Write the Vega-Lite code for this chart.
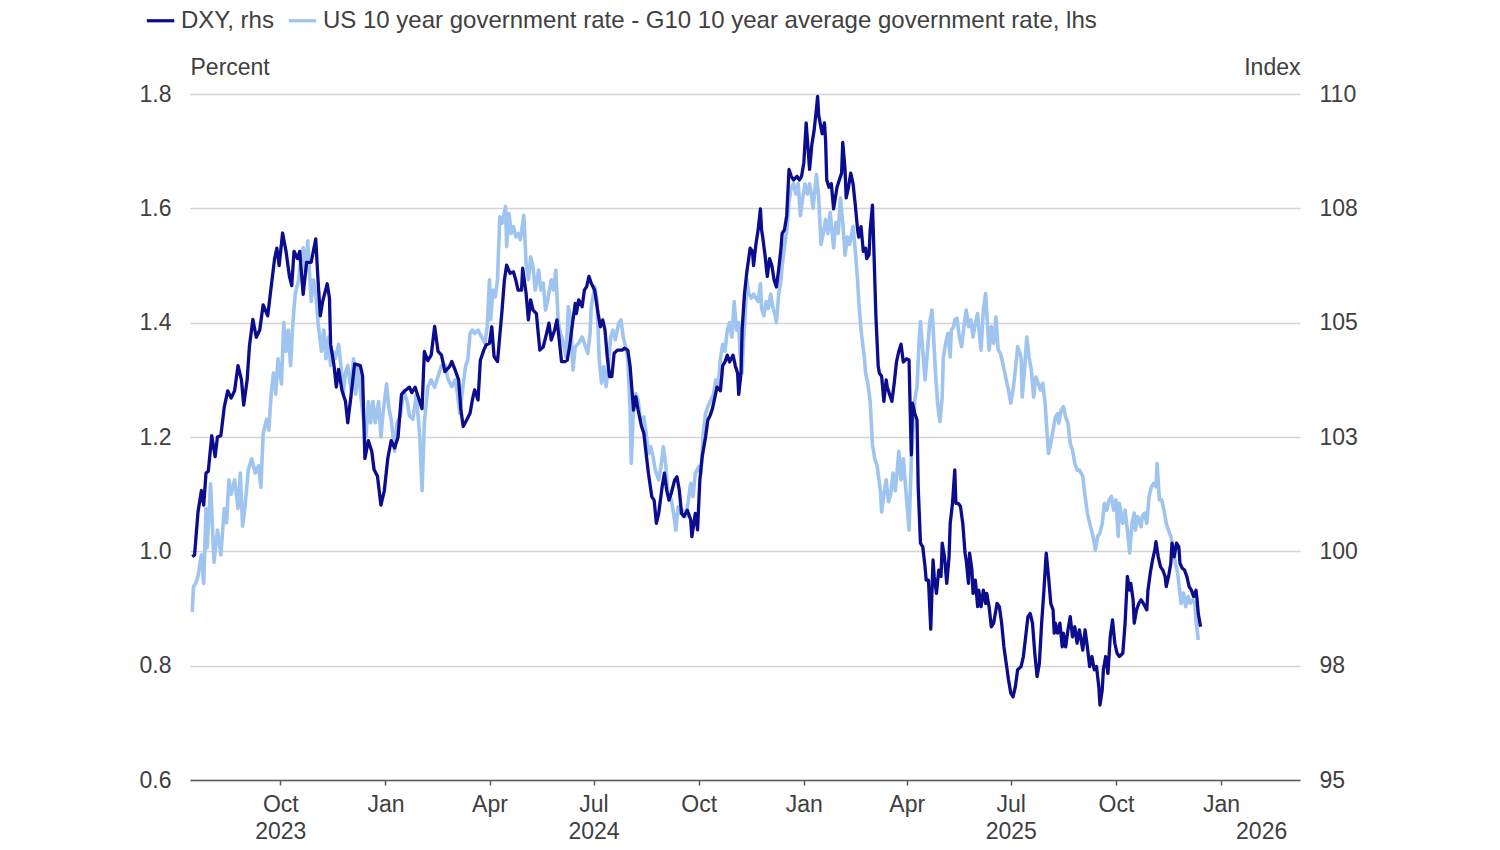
{
  "$schema": "https://vega.github.io/schema/vega-lite/v6.json",
  "width": 1110,
  "height": 686,
  "autosize": "none",
  "padding": {"left": 190, "top": 94, "right": 200, "bottom": 70},
  "background": "white",
  "datasets": {
    "dxy": [
      {"d":"2023-07-16","v":99.88},{"d":"2023-07-18","v":99.92},{"d":"2023-07-21","v":100.86},{"d":"2023-07-24","v":101.33},{"d":"2023-07-26","v":101.01},{"d":"2023-07-28","v":101.71},{"d":"2023-07-30","v":101.75},{"d":"2023-08-02","v":102.53},{"d":"2023-08-05","v":102.07},{"d":"2023-08-07","v":102.5},{"d":"2023-08-10","v":102.53},{"d":"2023-08-13","v":103.16},{"d":"2023-08-16","v":103.51},{"d":"2023-08-19","v":103.35},{"d":"2023-08-22","v":103.51},{"d":"2023-08-25","v":104.06},{"d":"2023-08-28","v":103.75},{"d":"2023-08-30","v":103.2},{"d":"2023-09-02","v":103.75},{"d":"2023-09-04","v":104.49},{"d":"2023-09-07","v":105.07},{"d":"2023-09-10","v":104.68},{"d":"2023-09-13","v":104.84},{"d":"2023-09-16","v":105.39},{"d":"2023-09-20","v":105.15},{"d":"2023-09-23","v":105.78},{"d":"2023-09-26","v":106.4},{"d":"2023-09-28","v":106.63},{"d":"2023-09-30","v":106.25},{"d":"2023-10-03","v":106.96},{"d":"2023-10-06","v":106.56},{"d":"2023-10-09","v":106.01},{"d":"2023-10-11","v":105.81},{"d":"2023-10-13","v":106.56},{"d":"2023-10-16","v":106.4},{"d":"2023-10-18","v":106.56},{"d":"2023-10-21","v":105.62},{"d":"2023-10-24","v":106.32},{"d":"2023-10-28","v":106.32},{"d":"2023-11-01","v":106.83},{"d":"2023-11-03","v":105.93},{"d":"2023-11-05","v":105.15},{"d":"2023-11-07","v":105.46},{"d":"2023-11-11","v":105.85},{"d":"2023-11-13","v":105.54},{"d":"2023-11-14","v":104.53},{"d":"2023-11-17","v":104.06},{"d":"2023-11-19","v":103.59},{"d":"2023-11-21","v":103.98},{"d":"2023-11-24","v":103.51},{"d":"2023-11-27","v":103.28},{"d":"2023-11-29","v":102.81},{"d":"2023-12-02","v":103.43},{"d":"2023-12-05","v":104.1},{"d":"2023-12-10","v":104.06},{"d":"2023-12-12","v":103.83},{"d":"2023-12-14","v":102.03},{"d":"2023-12-17","v":102.42},{"d":"2023-12-20","v":102.19},{"d":"2023-12-22","v":101.79},{"d":"2023-12-25","v":101.64},{"d":"2023-12-28","v":101.01},{"d":"2023-12-31","v":101.33},
      {"d":"2024-01-03","v":102.03},{"d":"2024-01-06","v":102.42},{"d":"2024-01-09","v":102.26},{"d":"2024-01-12","v":102.5},{"d":"2024-01-15","v":103.43},{"d":"2024-01-18","v":103.51},{"d":"2024-01-22","v":103.59},{"d":"2024-01-24","v":103.47},{"d":"2024-01-27","v":103.59},{"d":"2024-01-30","v":103.35},{"d":"2024-02-02","v":103.12},{"d":"2024-02-04","v":104.37},{"d":"2024-02-07","v":104.17},{"d":"2024-02-10","v":104.29},{"d":"2024-02-13","v":104.92},{"d":"2024-02-16","v":104.37},{"d":"2024-02-19","v":104.29},{"d":"2024-02-22","v":103.93},{"d":"2024-02-26","v":104.04},{"d":"2024-02-28","v":104.15},{"d":"2024-03-02","v":103.96},{"d":"2024-03-05","v":103.75},{"d":"2024-03-07","v":103.09},{"d":"2024-03-09","v":102.73},{"d":"2024-03-12","v":102.87},{"d":"2024-03-15","v":103.02},{"d":"2024-03-17","v":103.31},{"d":"2024-03-19","v":103.53},{"d":"2024-03-22","v":103.31},{"d":"2024-03-24","v":104.18},{"d":"2024-03-27","v":104.4},{"d":"2024-03-29","v":104.51},{"d":"2024-04-01","v":104.55},{"d":"2024-04-03","v":104.91},{"d":"2024-04-05","v":104.26},{"d":"2024-04-08","v":104.15},{"d":"2024-04-12","v":105.28},{"d":"2024-04-14","v":105.93},{"d":"2024-04-16","v":106.26},{"d":"2024-04-19","v":106.08},{"d":"2024-04-22","v":106.11},{"d":"2024-04-24","v":105.93},{"d":"2024-04-26","v":105.71},{"d":"2024-04-29","v":105.71},{"d":"2024-04-30","v":106.19},{"d":"2024-05-03","v":105.64},{"d":"2024-05-05","v":105.06},{"d":"2024-05-07","v":105.5},{"d":"2024-05-09","v":105.28},{"d":"2024-05-12","v":105.2},{"d":"2024-05-15","v":104.4},{"d":"2024-05-18","v":104.47},{"d":"2024-05-21","v":104.77},{"d":"2024-05-23","v":104.99},{"d":"2024-05-25","v":104.62},{"d":"2024-05-28","v":104.84},{"d":"2024-05-30","v":105.06},{"d":"2024-06-01","v":104.62},{"d":"2024-06-03","v":104.15},{"d":"2024-06-06","v":104.15},{"d":"2024-06-08","v":104.18},{"d":"2024-06-10","v":104.47},{"d":"2024-06-13","v":105.06},{"d":"2024-06-15","v":105.42},{"d":"2024-06-16","v":105.2},{"d":"2024-06-18","v":105.5},{"d":"2024-06-21","v":105.35},{"d":"2024-06-23","v":105.71},{"d":"2024-06-25","v":105.79},{"d":"2024-06-27","v":106.01},{"d":"2024-06-29","v":105.86},{"d":"2024-07-02","v":105.71},{"d":"2024-07-05","v":105.2},{"d":"2024-07-07","v":104.91},{"d":"2024-07-09","v":105.06},{"d":"2024-07-11","v":104.84},{"d":"2024-07-13","v":104.26},{"d":"2024-07-15","v":103.82},{"d":"2024-07-17","v":103.82},{"d":"2024-07-19","v":104.33},{"d":"2024-07-22","v":104.4},{"d":"2024-07-26","v":104.4},{"d":"2024-07-28","v":104.44},{"d":"2024-07-31","v":104.4},{"d":"2024-08-02","v":104.04},{"d":"2024-08-05","v":103.09},{"d":"2024-08-07","v":103.38},{"d":"2024-08-09","v":103.09},{"d":"2024-08-12","v":102.73},{"d":"2024-08-14","v":102.58},{"d":"2024-08-16","v":102.14},{"d":"2024-08-18","v":101.71},{"d":"2024-08-21","v":101.19},{"d":"2024-08-23","v":101.12},{"d":"2024-08-25","v":100.61},{"d":"2024-08-27","v":100.83},{"d":"2024-08-30","v":101.41},{"d":"2024-09-01","v":101.71},{"d":"2024-09-03","v":101.34},{"d":"2024-09-05","v":101.12},{"d":"2024-09-07","v":101.27},{"d":"2024-09-10","v":101.56},{"d":"2024-09-12","v":101.63},{"d":"2024-09-14","v":101.34},{"d":"2024-09-16","v":100.83},{"d":"2024-09-18","v":100.76},{"d":"2024-09-21","v":100.9},{"d":"2024-09-24","v":100.69},{"d":"2024-09-25","v":100.32},{"d":"2024-09-28","v":100.83},{"d":"2024-09-30","v":100.47},{"d":"2024-10-02","v":101.56},{"d":"2024-10-04","v":102.06},{"d":"2024-10-07","v":102.5},{"d":"2024-10-09","v":102.87},{"d":"2024-10-11","v":102.97},{"d":"2024-10-13","v":103.12},{"d":"2024-10-15","v":103.35},{"d":"2024-10-17","v":103.59},{"d":"2024-10-20","v":103.51},{"d":"2024-10-22","v":104.06},{"d":"2024-10-24","v":104.14},{"d":"2024-10-26","v":104.29},{"d":"2024-10-28","v":104.14},{"d":"2024-10-31","v":104.29},{"d":"2024-11-02","v":104.06},{"d":"2024-11-04","v":103.9},{"d":"2024-11-05","v":103.43},{"d":"2024-11-07","v":103.9},{"d":"2024-11-08","v":104.84},{"d":"2024-11-10","v":105.62},{"d":"2024-11-12","v":106.09},{"d":"2024-11-15","v":106.63},{"d":"2024-11-17","v":106.56},{"d":"2024-11-18","v":106.25},{"d":"2024-11-20","v":106.71},{"d":"2024-11-22","v":107.03},{"d":"2024-11-24","v":107.49},{"d":"2024-11-25","v":107.03},{"d":"2024-11-26","v":106.87},{"d":"2024-11-28","v":106.48},{"d":"2024-11-30","v":106.01},{"d":"2024-12-02","v":106.4},{"d":"2024-12-04","v":106.25},{"d":"2024-12-06","v":105.93},{"d":"2024-12-08","v":105.78},{"d":"2024-12-10","v":106.17},{"d":"2024-12-12","v":106.63},{"d":"2024-12-13","v":106.95},{"d":"2024-12-15","v":107.03},{"d":"2024-12-17","v":107.34},{"d":"2024-12-19","v":108.35},{"d":"2024-12-21","v":108.2},{"d":"2024-12-23","v":108.12},{"d":"2024-12-26","v":108.2},{"d":"2024-12-28","v":108.12},{"d":"2024-12-30","v":108.2},
      {"d":"2025-01-01","v":108.51},{"d":"2025-01-03","v":109.37},{"d":"2025-01-06","v":108.35},{"d":"2025-01-08","v":108.9},{"d":"2025-01-10","v":109.21},{"d":"2025-01-12","v":109.68},{"d":"2025-01-13","v":109.95},{"d":"2025-01-14","v":109.53},{"d":"2025-01-17","v":109.13},{"d":"2025-01-19","v":109.37},{"d":"2025-01-20","v":108.98},{"d":"2025-01-21","v":108.12},{"d":"2025-01-23","v":107.96},{"d":"2025-01-25","v":108.04},{"d":"2025-01-27","v":107.49},{"d":"2025-01-30","v":107.96},{"d":"2025-02-01","v":108.12},{"d":"2025-02-03","v":108.27},{"d":"2025-02-04","v":108.94},{"d":"2025-02-06","v":108.35},{"d":"2025-02-07","v":107.73},{"d":"2025-02-09","v":107.96},{"d":"2025-02-11","v":108.27},{"d":"2025-02-13","v":108.04},{"d":"2025-02-15","v":107.57},{"d":"2025-02-17","v":107.03},{"d":"2025-02-18","v":106.87},{"d":"2025-02-20","v":107.1},{"d":"2025-02-22","v":106.56},{"d":"2025-02-24","v":106.63},{"d":"2025-02-25","v":106.4},{"d":"2025-02-27","v":106.48},{"d":"2025-02-28","v":107.03},{"d":"2025-03-02","v":107.57},{"d":"2025-03-03","v":106.79},{"d":"2025-03-05","v":105.15},{"d":"2025-03-07","v":104.06},{"d":"2025-03-08","v":103.9},{"d":"2025-03-10","v":103.83},{"d":"2025-03-12","v":103.28},{"d":"2025-03-14","v":103.75},{"d":"2025-03-15","v":103.59},{"d":"2025-03-17","v":103.43},{"d":"2025-03-19","v":103.28},{"d":"2025-03-21","v":103.67},{"d":"2025-03-23","v":104.14},{"d":"2025-03-25","v":104.37},{"d":"2025-03-27","v":104.53},{"d":"2025-03-29","v":104.14},{"d":"2025-04-01","v":104.21},{"d":"2025-04-03","v":104.18},{"d":"2025-04-04","v":103.09},{"d":"2025-04-05","v":102.11},{"d":"2025-04-06","v":103.24},{"d":"2025-04-08","v":103.02},{"d":"2025-04-10","v":102.87},{"d":"2025-04-11","v":101.41},{"d":"2025-04-13","v":100.18},{"d":"2025-04-15","v":100.1},{"d":"2025-04-17","v":99.66},{"d":"2025-04-18","v":99.37},{"d":"2025-04-20","v":99.37},{"d":"2025-04-22","v":98.3},{"d":"2025-04-24","v":99.81},{"d":"2025-04-25","v":99.45},{"d":"2025-04-27","v":99.08},{"d":"2025-04-29","v":99.59},{"d":"2025-05-01","v":99.45},{"d":"2025-05-02","v":100.18},{"d":"2025-05-04","v":99.88},{"d":"2025-05-06","v":99.3},{"d":"2025-05-08","v":99.88},{"d":"2025-05-09","v":100.61},{"d":"2025-05-11","v":101.05},{"d":"2025-05-13","v":101.78},{"d":"2025-05-14","v":101.05},{"d":"2025-05-16","v":101.05},{"d":"2025-05-18","v":100.98},{"d":"2025-05-20","v":100.61},{"d":"2025-05-22","v":99.96},{"d":"2025-05-23","v":99.81},{"d":"2025-05-25","v":99.3},{"d":"2025-05-26","v":99.96},{"d":"2025-05-28","v":99.59},{"d":"2025-05-29","v":99.08},{"d":"2025-05-31","v":99.37},{"d":"2025-06-02","v":98.79},{"d":"2025-06-03","v":99.15},{"d":"2025-06-05","v":98.79},{"d":"2025-06-07","v":99.15},{"d":"2025-06-09","v":98.86},{"d":"2025-06-10","v":99.08},{"d":"2025-06-12","v":98.79},{"d":"2025-06-14","v":98.35},{"d":"2025-06-16","v":98.43},{"d":"2025-06-19","v":98.86},{"d":"2025-06-21","v":98.79},{"d":"2025-06-23","v":98.43},{"d":"2025-06-25","v":97.91},{"d":"2025-06-27","v":97.55},{"d":"2025-06-29","v":97.19},{"d":"2025-07-01","v":96.9},{"d":"2025-07-03","v":96.82},{"d":"2025-07-05","v":97.04},{"d":"2025-07-07","v":97.41},{"d":"2025-07-10","v":97.48},{"d":"2025-07-12","v":97.7},{"d":"2025-07-14","v":98.13},{"d":"2025-07-16","v":98.57},{"d":"2025-07-18","v":98.64},{"d":"2025-07-20","v":98.43},{"d":"2025-07-22","v":97.77},{"d":"2025-07-24","v":97.26},{"d":"2025-07-26","v":97.55},{"d":"2025-07-28","v":98.43},{"d":"2025-07-30","v":99.15},{"d":"2025-08-01","v":99.96},{"d":"2025-08-03","v":99.45},{"d":"2025-08-05","v":98.86},{"d":"2025-08-07","v":98.72},{"d":"2025-08-08","v":98.21},{"d":"2025-08-09","v":98.43},{"d":"2025-08-11","v":98.21},{"d":"2025-08-13","v":98.43},{"d":"2025-08-15","v":97.91},{"d":"2025-08-16","v":98.21},{"d":"2025-08-18","v":97.91},{"d":"2025-08-20","v":98.28},{"d":"2025-08-22","v":98.57},{"d":"2025-08-24","v":98.13},{"d":"2025-08-26","v":98.35},{"d":"2025-08-28","v":97.99},{"d":"2025-08-30","v":98.28},{"d":"2025-09-02","v":97.84},{"d":"2025-09-04","v":98.28},{"d":"2025-09-06","v":97.91},{"d":"2025-09-08","v":97.48},{"d":"2025-09-10","v":97.7},{"d":"2025-09-12","v":97.41},{"d":"2025-09-14","v":97.48},{"d":"2025-09-16","v":97.04},{"d":"2025-09-17","v":96.64},{"d":"2025-09-19","v":96.97},{"d":"2025-09-20","v":97.41},{"d":"2025-09-22","v":97.7},{"d":"2025-09-24","v":97.33},{"d":"2025-09-26","v":98.13},{"d":"2025-09-28","v":98.5},{"d":"2025-09-30","v":97.99},{"d":"2025-10-02","v":97.77},{"d":"2025-10-04","v":97.7},{"d":"2025-10-07","v":97.77},{"d":"2025-10-09","v":98.43},{"d":"2025-10-11","v":99.45},{"d":"2025-10-13","v":99.15},{"d":"2025-10-14","v":99.3},{"d":"2025-10-16","v":98.94},{"d":"2025-10-17","v":98.43},{"d":"2025-10-19","v":98.72},{"d":"2025-10-21","v":98.86},{"d":"2025-10-23","v":98.94},{"d":"2025-10-25","v":98.86},{"d":"2025-10-28","v":98.72},{"d":"2025-10-29","v":99.15},{"d":"2025-10-31","v":99.52},{"d":"2025-11-02","v":99.81},{"d":"2025-11-04","v":100.03},{"d":"2025-11-05","v":100.21},{"d":"2025-11-07","v":99.88},{"d":"2025-11-09","v":99.66},{"d":"2025-11-11","v":99.59},{"d":"2025-11-13","v":99.45},{"d":"2025-11-14","v":99.23},{"d":"2025-11-16","v":99.45},{"d":"2025-11-18","v":99.74},{"d":"2025-11-19","v":100.18},{"d":"2025-11-21","v":99.88},{"d":"2025-11-23","v":100.18},{"d":"2025-11-25","v":100.1},{"d":"2025-11-26","v":99.74},{"d":"2025-11-28","v":99.63},{"d":"2025-11-30","v":99.59},{"d":"2025-12-02","v":99.45},{"d":"2025-12-04","v":99.23},{"d":"2025-12-06","v":99.15},{"d":"2025-12-08","v":99.01},{"d":"2025-12-10","v":99.15},{"d":"2025-12-11","v":98.94},{"d":"2025-12-12","v":98.64},{"d":"2025-12-14","v":98.35}
    ],
    "spr": [
      {"d":"2023-07-16","v":0.894},{"d":"2023-07-17","v":0.938},{"d":"2023-07-19","v":0.944},{"d":"2023-07-21","v":0.956},{"d":"2023-07-24","v":0.994},{"d":"2023-07-26","v":0.944},{"d":"2023-07-28","v":1.075},{"d":"2023-07-29","v":1.006},{"d":"2023-08-01","v":1.118},{"d":"2023-08-04","v":0.981},{"d":"2023-08-07","v":1.037},{"d":"2023-08-10","v":0.994},{"d":"2023-08-13","v":1.075},{"d":"2023-08-15","v":1.05},{"d":"2023-08-17","v":1.125},{"d":"2023-08-19","v":1.1},{"d":"2023-08-22","v":1.125},{"d":"2023-08-25","v":1.075},{"d":"2023-08-27","v":1.137},{"d":"2023-08-29","v":1.044},{"d":"2023-08-31","v":1.075},{"d":"2023-09-03","v":1.143},{"d":"2023-09-06","v":1.162},{"d":"2023-09-09","v":1.137},{"d":"2023-09-12","v":1.15},{"d":"2023-09-14","v":1.112},{"d":"2023-09-16","v":1.206},{"d":"2023-09-19","v":1.231},{"d":"2023-09-21","v":1.212},{"d":"2023-09-23","v":1.275},{"d":"2023-09-25","v":1.312},{"d":"2023-09-27","v":1.275},{"d":"2023-09-29","v":1.337},{"d":"2023-10-02","v":1.293},{"d":"2023-10-04","v":1.4},{"d":"2023-10-06","v":1.35},{"d":"2023-10-08","v":1.387},{"d":"2023-10-10","v":1.325},{"d":"2023-10-12","v":1.4},{"d":"2023-10-14","v":1.45},{"d":"2023-10-17","v":1.475},{"d":"2023-10-19","v":1.512},{"d":"2023-10-21","v":1.531},{"d":"2023-10-23","v":1.487},{"d":"2023-10-25","v":1.543},{"d":"2023-10-28","v":1.437},{"d":"2023-10-30","v":1.475},{"d":"2023-11-01","v":1.45},{"d":"2023-11-03","v":1.4},{"d":"2023-11-06","v":1.35},{"d":"2023-11-08","v":1.387},{"d":"2023-11-10","v":1.337},{"d":"2023-11-12","v":1.375},{"d":"2023-11-14","v":1.325},{"d":"2023-11-16","v":1.35},{"d":"2023-11-18","v":1.337},{"d":"2023-11-21","v":1.362},{"d":"2023-11-23","v":1.325},{"d":"2023-11-25","v":1.275},{"d":"2023-11-27","v":1.312},{"d":"2023-11-29","v":1.325},{"d":"2023-12-02","v":1.281},{"d":"2023-12-04","v":1.337},{"d":"2023-12-06","v":1.275},{"d":"2023-12-08","v":1.325},{"d":"2023-12-11","v":1.262},{"d":"2023-12-13","v":1.225},{"d":"2023-12-15","v":1.2},{"d":"2023-12-17","v":1.262},{"d":"2023-12-19","v":1.225},{"d":"2023-12-21","v":1.262},{"d":"2023-12-23","v":1.225},{"d":"2023-12-26","v":1.262},{"d":"2023-12-28","v":1.2},{"d":"2023-12-30","v":1.244},
      {"d":"2024-01-02","v":1.293},{"d":"2024-01-04","v":1.25},{"d":"2024-01-06","v":1.231},{"d":"2024-01-09","v":1.175},{"d":"2024-01-11","v":1.225},{"d":"2024-01-14","v":1.237},{"d":"2024-01-17","v":1.281},{"d":"2024-01-20","v":1.262},{"d":"2024-01-22","v":1.237},{"d":"2024-01-25","v":1.231},{"d":"2024-01-28","v":1.275},{"d":"2024-01-31","v":1.2},{"d":"2024-02-02","v":1.106},{"d":"2024-02-04","v":1.225},{"d":"2024-02-07","v":1.287},{"d":"2024-02-10","v":1.3},{"d":"2024-02-13","v":1.287},{"d":"2024-02-16","v":1.306},{"d":"2024-02-19","v":1.325},{"d":"2024-02-22","v":1.326},{"d":"2024-02-25","v":1.3},{"d":"2024-02-28","v":1.288},{"d":"2024-03-02","v":1.3},{"d":"2024-03-04","v":1.276},{"d":"2024-03-06","v":1.241},{"d":"2024-03-08","v":1.276},{"d":"2024-03-11","v":1.323},{"d":"2024-03-13","v":1.335},{"d":"2024-03-15","v":1.381},{"d":"2024-03-17","v":1.387},{"d":"2024-03-19","v":1.381},{"d":"2024-03-22","v":1.387},{"d":"2024-03-25","v":1.375},{"d":"2024-03-28","v":1.364},{"d":"2024-03-30","v":1.393},{"d":"2024-04-01","v":1.475},{"d":"2024-04-02","v":1.405},{"d":"2024-04-04","v":1.457},{"d":"2024-04-06","v":1.445},{"d":"2024-04-08","v":1.475},{"d":"2024-04-10","v":1.585},{"d":"2024-04-12","v":1.574},{"d":"2024-04-15","v":1.603},{"d":"2024-04-16","v":1.533},{"d":"2024-04-18","v":1.591},{"d":"2024-04-20","v":1.556},{"d":"2024-04-22","v":1.568},{"d":"2024-04-24","v":1.55},{"d":"2024-04-26","v":1.556},{"d":"2024-04-28","v":1.545},{"d":"2024-05-01","v":1.588},{"d":"2024-05-03","v":1.504},{"d":"2024-05-05","v":1.475},{"d":"2024-05-07","v":1.515},{"d":"2024-05-09","v":1.498},{"d":"2024-05-11","v":1.457},{"d":"2024-05-14","v":1.492},{"d":"2024-05-16","v":1.457},{"d":"2024-05-18","v":1.469},{"d":"2024-05-20","v":1.422},{"d":"2024-05-22","v":1.44},{"d":"2024-05-25","v":1.475},{"d":"2024-05-27","v":1.457},{"d":"2024-05-29","v":1.492},{"d":"2024-05-31","v":1.405},{"d":"2024-06-02","v":1.381},{"d":"2024-06-04","v":1.37},{"d":"2024-06-07","v":1.34},{"d":"2024-06-09","v":1.428},{"d":"2024-06-11","v":1.405},{"d":"2024-06-13","v":1.317},{"d":"2024-06-15","v":1.358},{"d":"2024-06-18","v":1.364},{"d":"2024-06-21","v":1.375},{"d":"2024-06-24","v":1.358},{"d":"2024-06-26","v":1.346},{"d":"2024-06-28","v":1.381},{"d":"2024-06-29","v":1.428},{"d":"2024-07-02","v":1.463},{"d":"2024-07-04","v":1.44},{"d":"2024-07-06","v":1.335},{"d":"2024-07-08","v":1.294},{"d":"2024-07-10","v":1.323},{"d":"2024-07-12","v":1.288},{"d":"2024-07-14","v":1.323},{"d":"2024-07-16","v":1.375},{"d":"2024-07-18","v":1.387},{"d":"2024-07-20","v":1.37},{"d":"2024-07-23","v":1.399},{"d":"2024-07-25","v":1.405},{"d":"2024-07-27","v":1.375},{"d":"2024-07-29","v":1.358},{"d":"2024-07-31","v":1.335},{"d":"2024-08-02","v":1.247},{"d":"2024-08-03","v":1.154},{"d":"2024-08-05","v":1.253},{"d":"2024-08-07","v":1.276},{"d":"2024-08-09","v":1.265},{"d":"2024-08-11","v":1.23},{"d":"2024-08-14","v":1.235},{"d":"2024-08-16","v":1.206},{"d":"2024-08-18","v":1.171},{"d":"2024-08-20","v":1.183},{"d":"2024-08-22","v":1.166},{"d":"2024-08-24","v":1.142},{"d":"2024-08-27","v":1.125},{"d":"2024-08-29","v":1.148},{"d":"2024-08-31","v":1.183},{"d":"2024-09-02","v":1.154},{"d":"2024-09-04","v":1.102},{"d":"2024-09-07","v":1.09},{"d":"2024-09-09","v":1.067},{"d":"2024-09-11","v":1.037},{"d":"2024-09-13","v":1.078},{"d":"2024-09-15","v":1.067},{"d":"2024-09-17","v":1.072},{"d":"2024-09-20","v":1.061},{"d":"2024-09-22","v":1.09},{"d":"2024-09-24","v":1.119},{"d":"2024-09-26","v":1.096},{"d":"2024-09-28","v":1.136},{"d":"2024-10-01","v":1.148},{"d":"2024-10-03","v":1.136},{"d":"2024-10-05","v":1.206},{"d":"2024-10-07","v":1.241},{"d":"2024-10-09","v":1.253},{"d":"2024-10-11","v":1.262},{"d":"2024-10-14","v":1.275},{"d":"2024-10-16","v":1.3},{"d":"2024-10-18","v":1.287},{"d":"2024-10-20","v":1.337},{"d":"2024-10-22","v":1.362},{"d":"2024-10-24","v":1.35},{"d":"2024-10-26","v":1.387},{"d":"2024-10-28","v":1.4},{"d":"2024-10-30","v":1.375},{"d":"2024-11-01","v":1.437},{"d":"2024-11-03","v":1.387},{"d":"2024-11-05","v":1.4},{"d":"2024-11-06","v":1.35},{"d":"2024-11-08","v":1.312},{"d":"2024-11-09","v":1.362},{"d":"2024-11-11","v":1.425},{"d":"2024-11-12","v":1.475},{"d":"2024-11-14","v":1.45},{"d":"2024-11-16","v":1.443},{"d":"2024-11-18","v":1.45},{"d":"2024-11-20","v":1.443},{"d":"2024-11-22","v":1.437},{"d":"2024-11-24","v":1.468},{"d":"2024-11-25","v":1.425},{"d":"2024-11-27","v":1.412},{"d":"2024-11-29","v":1.437},{"d":"2024-12-01","v":1.425},{"d":"2024-12-03","v":1.45},{"d":"2024-12-05","v":1.425},{"d":"2024-12-07","v":1.412},{"d":"2024-12-08","v":1.4},{"d":"2024-12-10","v":1.45},{"d":"2024-12-12","v":1.475},{"d":"2024-12-13","v":1.5},{"d":"2024-12-15","v":1.531},{"d":"2024-12-17","v":1.562},{"d":"2024-12-19","v":1.612},{"d":"2024-12-21","v":1.637},{"d":"2024-12-23","v":1.643},{"d":"2024-12-25","v":1.625},{"d":"2024-12-27","v":1.643},{"d":"2024-12-29","v":1.587},{"d":"2024-12-31","v":1.618},
      {"d":"2025-01-02","v":1.643},{"d":"2025-01-04","v":1.625},{"d":"2025-01-06","v":1.643},{"d":"2025-01-08","v":1.618},{"d":"2025-01-09","v":1.6},{"d":"2025-01-12","v":1.659},{"d":"2025-01-14","v":1.618},{"d":"2025-01-16","v":1.537},{"d":"2025-01-18","v":1.556},{"d":"2025-01-20","v":1.581},{"d":"2025-01-22","v":1.556},{"d":"2025-01-24","v":1.593},{"d":"2025-01-27","v":1.531},{"d":"2025-01-29","v":1.575},{"d":"2025-01-31","v":1.556},{"d":"2025-02-02","v":1.618},{"d":"2025-02-04","v":1.575},{"d":"2025-02-06","v":1.518},{"d":"2025-02-08","v":1.55},{"d":"2025-02-10","v":1.537},{"d":"2025-02-13","v":1.568},{"d":"2025-02-15","v":1.525},{"d":"2025-02-17","v":1.475},{"d":"2025-02-18","v":1.437},{"d":"2025-02-20","v":1.387},{"d":"2025-02-23","v":1.337},{"d":"2025-02-24","v":1.312},{"d":"2025-02-26","v":1.293},{"d":"2025-02-28","v":1.262},{"d":"2025-03-02","v":1.187},{"d":"2025-03-04","v":1.162},{"d":"2025-03-06","v":1.15},{"d":"2025-03-09","v":1.106},{"d":"2025-03-10","v":1.069},{"d":"2025-03-12","v":1.1},{"d":"2025-03-14","v":1.125},{"d":"2025-03-16","v":1.087},{"d":"2025-03-18","v":1.1},{"d":"2025-03-20","v":1.137},{"d":"2025-03-22","v":1.106},{"d":"2025-03-24","v":1.15},{"d":"2025-03-25","v":1.175},{"d":"2025-03-27","v":1.125},{"d":"2025-03-29","v":1.162},{"d":"2025-04-01","v":1.087},{"d":"2025-04-03","v":1.037},{"d":"2025-04-05","v":1.16},{"d":"2025-04-07","v":1.23},{"d":"2025-04-08","v":1.265},{"d":"2025-04-10","v":1.288},{"d":"2025-04-12","v":1.375},{"d":"2025-04-13","v":1.402},{"d":"2025-04-15","v":1.352},{"d":"2025-04-17","v":1.3},{"d":"2025-04-19","v":1.346},{"d":"2025-04-21","v":1.399},{"d":"2025-04-23","v":1.422},{"d":"2025-04-24","v":1.393},{"d":"2025-04-26","v":1.317},{"d":"2025-04-28","v":1.259},{"d":"2025-04-30","v":1.227},{"d":"2025-05-02","v":1.27},{"d":"2025-05-03","v":1.34},{"d":"2025-05-05","v":1.364},{"d":"2025-05-07","v":1.381},{"d":"2025-05-09","v":1.34},{"d":"2025-05-10","v":1.387},{"d":"2025-05-12","v":1.393},{"d":"2025-05-13","v":1.405},{"d":"2025-05-15","v":1.408},{"d":"2025-05-17","v":1.375},{"d":"2025-05-19","v":1.358},{"d":"2025-05-21","v":1.393},{"d":"2025-05-23","v":1.422},{"d":"2025-05-25","v":1.393},{"d":"2025-05-27","v":1.405},{"d":"2025-05-29","v":1.375},{"d":"2025-05-31","v":1.399},{"d":"2025-06-02","v":1.416},{"d":"2025-06-03","v":1.39},{"d":"2025-06-05","v":1.352},{"d":"2025-06-07","v":1.422},{"d":"2025-06-09","v":1.451},{"d":"2025-06-10","v":1.416},{"d":"2025-06-12","v":1.352},{"d":"2025-06-14","v":1.393},{"d":"2025-06-16","v":1.364},{"d":"2025-06-18","v":1.41},{"d":"2025-06-20","v":1.352},{"d":"2025-06-22","v":1.346},{"d":"2025-06-24","v":1.329},{"d":"2025-06-27","v":1.3},{"d":"2025-06-29","v":1.282},{"d":"2025-07-01","v":1.259},{"d":"2025-07-03","v":1.282},{"d":"2025-07-05","v":1.317},{"d":"2025-07-07","v":1.358},{"d":"2025-07-10","v":1.34},{"d":"2025-07-11","v":1.27},{"d":"2025-07-13","v":1.317},{"d":"2025-07-15","v":1.375},{"d":"2025-07-17","v":1.34},{"d":"2025-07-19","v":1.317},{"d":"2025-07-21","v":1.27},{"d":"2025-07-23","v":1.305},{"d":"2025-07-25","v":1.294},{"d":"2025-07-27","v":1.282},{"d":"2025-07-29","v":1.294},{"d":"2025-07-31","v":1.259},{"d":"2025-08-01","v":1.23},{"d":"2025-08-03","v":1.171},{"d":"2025-08-05","v":1.189},{"d":"2025-08-07","v":1.212},{"d":"2025-08-09","v":1.235},{"d":"2025-08-11","v":1.241},{"d":"2025-08-12","v":1.224},{"d":"2025-08-14","v":1.247},{"d":"2025-08-16","v":1.253},{"d":"2025-08-18","v":1.235},{"d":"2025-08-20","v":1.224},{"d":"2025-08-22","v":1.189},{"d":"2025-08-24","v":1.177},{"d":"2025-08-26","v":1.154},{"d":"2025-08-28","v":1.142},{"d":"2025-08-30","v":1.142},{"d":"2025-09-02","v":1.131},{"d":"2025-09-04","v":1.096},{"d":"2025-09-06","v":1.067},{"d":"2025-09-08","v":1.049},{"d":"2025-09-11","v":1.026},{"d":"2025-09-13","v":1.002},{"d":"2025-09-15","v":1.026},{"d":"2025-09-17","v":1.032},{"d":"2025-09-19","v":1.049},{"d":"2025-09-21","v":1.084},{"d":"2025-09-23","v":1.072},{"d":"2025-09-25","v":1.09},{"d":"2025-09-27","v":1.096},{"d":"2025-09-29","v":1.072},{"d":"2025-10-01","v":1.09},{"d":"2025-10-03","v":1.026},{"d":"2025-10-04","v":1.084},{"d":"2025-10-07","v":1.049},{"d":"2025-10-09","v":1.072},{"d":"2025-10-11","v":1.037},{"d":"2025-10-13","v":0.997},{"d":"2025-10-15","v":1.049},{"d":"2025-10-17","v":1.067},{"d":"2025-10-18","v":1.037},{"d":"2025-10-20","v":1.061},{"d":"2025-10-23","v":1.043},{"d":"2025-10-24","v":1.061},{"d":"2025-10-26","v":1.067},{"d":"2025-10-28","v":1.049},{"d":"2025-10-30","v":1.096},{"d":"2025-11-01","v":1.113},{"d":"2025-11-03","v":1.119},{"d":"2025-11-05","v":1.113},{"d":"2025-11-06","v":1.154},{"d":"2025-11-08","v":1.09},{"d":"2025-11-10","v":1.09},{"d":"2025-11-12","v":1.072},{"d":"2025-11-14","v":1.049},{"d":"2025-11-16","v":1.037},{"d":"2025-11-18","v":1.026},{"d":"2025-11-20","v":1.008},{"d":"2025-11-22","v":0.979},{"d":"2025-11-24","v":0.962},{"d":"2025-11-25","v":0.944},{"d":"2025-11-27","v":0.909},{"d":"2025-11-29","v":0.927},{"d":"2025-12-01","v":0.903},{"d":"2025-12-03","v":0.921},{"d":"2025-12-05","v":0.909},{"d":"2025-12-07","v":0.915},{"d":"2025-12-09","v":0.909},{"d":"2025-12-10","v":0.88},{"d":"2025-12-12","v":0.845}
    ]
  },
  "layer": [
    {
      "data": {"name": "spr"},
      "mark": {"type": "line", "strokeWidth": 3.6, "strokeJoin": "round"},
      "encoding": {
        "x": {
          "field": "d", "type": "temporal",
          "scale": {"type": "utc", "domain": [{"year": 2023, "month": 7, "date": 14, "utc": true}, {"year": 2026, "month": 3, "date": 11, "utc": true}]},
          "axis": {
            "orient": "bottom", "title": null, "domain": false, "ticks": false, "tickSize": 0, "grid": false,
            "values": [{"year": 2023, "month": 10, "date": 1, "utc": true}, {"year": 2024, "month": 7, "date": 1, "utc": true}, {"year": 2025, "month": 7, "date": 1, "utc": true}, {"year": 2026, "month": 2, "date": 5, "utc": true}],
            "labelExpr": "utcFormat(datum.value, '%Y')",
            "labelPadding": 40, "labelFlush": false, "labelOverlap": false, "labelBound": false
          }
        },
        "y": {
          "field": "v", "type": "quantitative",
          "scale": {"domain": [0.6, 1.8], "nice": false, "zero": false},
          "axis": {
            "orient": "left", "values": [0.6, 0.8, 1.0, 1.2, 1.4, 1.6, 1.8], "format": ".1f",
            "title": "Percent", "titleAngle": 0, "titleAlign": "left", "titleBaseline": "alphabetic", "titleX": 0, "titleY": -20,
            "domain": false, "ticks": false, "labelPadding": 19,
            "grid": true, "gridColor": "#d4d4d4", "gridWidth": 1.5
          }
        },
        "color": {
          "datum": "US 10 year government rate - G10 10 year average government rate, lhs", "type": "nominal",
          "scale": {"domain": ["DXY, rhs", "US 10 year government rate - G10 10 year average government rate, lhs"], "range": ["#0c0c8e", "#9ec4ef"]},
          "legend": {
            "orient": "none", "legendX": -45, "legendY": -89, "direction": "horizontal", "title": null,
            "symbolType": "stroke", "symbolStrokeWidth": 3.2, "symbolSize": 750,
            "labelFontSize": 24, "labelColor": "#404040", "labelLimit": 1200, "labelOffset": 5,
            "columnPadding": 8, "padding": 0
          }
        }
      }
    },
    {
      "data": {"name": "dxy"},
      "mark": {"type": "line", "strokeWidth": 3.3, "strokeJoin": "round"},
      "encoding": {
        "x": {
          "field": "d", "type": "temporal",
          "scale": {"type": "utc", "domain": [{"year": 2023, "month": 7, "date": 14, "utc": true}, {"year": 2026, "month": 3, "date": 11, "utc": true}]},
          "axis": {
            "orient": "bottom", "title": null, "grid": false,
            "tickCount": {"interval": "month", "step": 3},
            "labelExpr": "utcFormat(datum.value, '%b')",
            "domain": true, "domainColor": "#5a5a5a", "domainWidth": 1.5,
            "ticks": true, "tickColor": "#5a5a5a", "tickSize": 5, "tickWidth": 1.5,
            "labelPadding": 8, "labelFlush": false, "labelOverlap": false, "labelBound": false
          }
        },
        "y": {
          "field": "v", "type": "quantitative",
          "scale": {"domain": [95, 110], "nice": false, "zero": false},
          "axis": {
            "orient": "right", "values": [95, 97.5, 100, 102.5, 105, 107.5, 110],
            "labelExpr": "format(datum.value, '.0f')",
            "title": "Index", "titleAngle": 0, "titleAlign": "right", "titleBaseline": "alphabetic", "titleX": 0, "titleY": -20,
            "domain": false, "ticks": false, "labelPadding": 19, "grid": false
          }
        },
        "color": {"datum": "DXY, rhs", "type": "nominal"}
      }
    }
  ],
  "resolve": {"scale": {"y": "independent"}, "axis": {"x": "independent"}},
  "config": {
    "font": "Liberation Sans",
    "view": {"stroke": null},
    "axis": {
      "labelFont": "Liberation Sans", "titleFont": "Liberation Sans",
      "labelFontSize": 23, "titleFontSize": 23, "titleFontWeight": "normal",
      "labelColor": "#404040", "titleColor": "#404040"
    },
    "legend": {"labelFont": "Liberation Sans"}
  }
}
